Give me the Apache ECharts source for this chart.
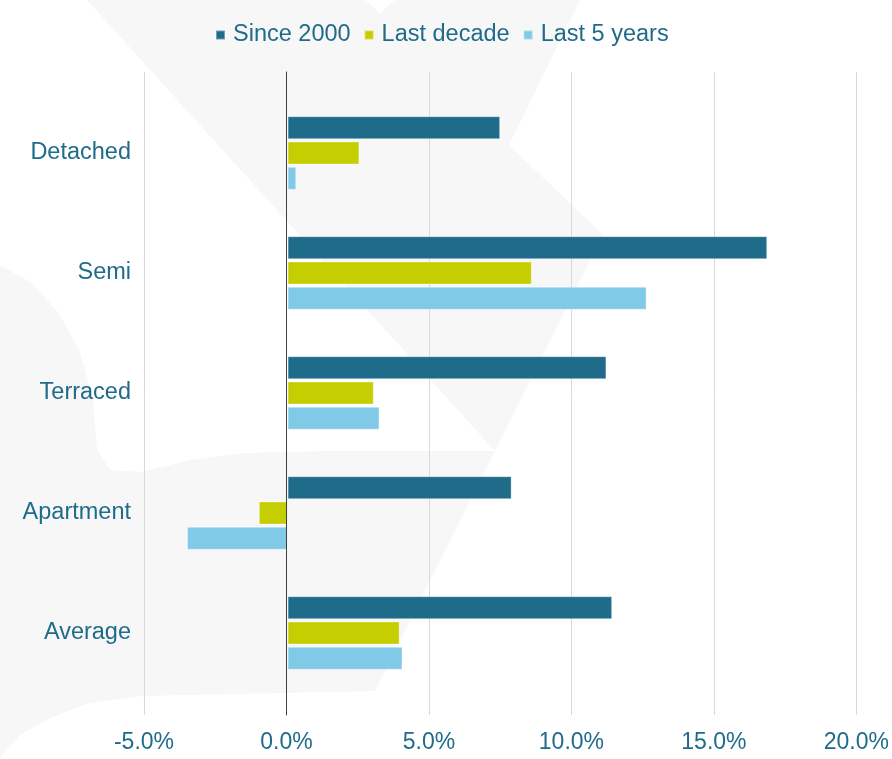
<!DOCTYPE html>
<html>
<head>
<meta charset="utf-8">
<script src="https://cdn.jsdelivr.net/npm/echarts@6/dist/echarts.min.js"></script>
<style>
html,body{margin:0;padding:0;background:#ffffff;}
#chart{width:892px;height:759px;}
</style>
</head>
<body>
<div id="chart"></div>
<script>
const categories = ['Detached', 'Semi', 'Terraced', 'Apartment', 'Average'];
const since2000 = [7.4, 16.7, 11.1, 7.8, 11.3];
const lastDecade = [2.5, 8.5, 3.0, -1.0, 3.9];
const last5Years = [0.3, 12.5, 3.2, -3.5, 4.0];
const seriesNames = ['Since 2000', 'Last decade', 'Last 5 years'];
const xTicks = { min: -5, max: 20, interval: 5 };

const TEXT = '#1f6b8a';
const FONT = "'Liberation Sans', Arial, sans-serif";
const COLORS = ['#1f6b8a', '#c4ce00', '#80cae8'];

const chart = echarts.init(document.getElementById('chart'), null, { renderer: 'canvas' });

const bg = '#f7f7f7';
const option = {
  backgroundColor: '#ffffff',
  animation: false,
  textStyle: { fontFamily: FONT },
  graphic: [{
    type: 'polygon',
    z: -10,
    silent: true,
    shape: {
      points: [
        [87, 0], [365, 0], [380, 14], [395, 0], [580, 0], [509, 145], [603, 235],
        [375, 691], [142, 696], [90, 703], [50, 718], [20, 735], [0, 758],
        [0, 265], [30, 282], [58, 312], [80, 352], [93, 400], [97, 450],
        [110, 470], [142, 472], [190, 460], [245, 453], [330, 451], [495, 451]
      ]
    },
    style: { fill: bg }
  }],
  legend: {
    data: seriesNames,
    top: 18,
    left: 210,
    icon: 'rect',
    itemWidth: 9,
    itemHeight: 9,
    itemGap: 13,
    textStyle: { color: TEXT, fontSize: 23.5, fontFamily: FONT, padding: [0, 0, 0, 3] }
  },
  grid: [
    { left: 144, right: 30, top: 72, height: 643 },
    { left: 144, right: 30, top: 93, height: 600 }
  ],
  xAxis: [
    {
      gridIndex: 0, type: 'value', min: xTicks.min, max: xTicks.max, interval: xTicks.interval,
      axisLine: { show: false }, axisTick: { show: false },
      splitLine: { show: true, lineStyle: { color: '#d9d9d9', width: 1 } },
      axisLabel: {
        color: TEXT, fontSize: 23, fontFamily: FONT, margin: 16,
        formatter: v => v.toFixed(1) + '%'
      }
    },
    {
      gridIndex: 1, type: 'value', min: xTicks.min, max: xTicks.max, interval: xTicks.interval,
      show: false
    }
  ],
  yAxis: [
    {
      gridIndex: 0, type: 'value', min: 0, max: 1, z: 5,
      axisLine: { show: true, onZero: true, lineStyle: { color: '#404040', width: 1 } },
      axisTick: { show: false }, axisLabel: { show: false }, splitLine: { show: false }
    },
    {
      gridIndex: 1, type: 'category', data: categories, inverse: true,
      axisLine: { show: false, onZero: false }, axisTick: { show: false },
      splitLine: { show: false },
      axisLabel: { color: TEXT, fontSize: 23.5, fontFamily: FONT, margin: 13 }
    }
  ],
  series: [
    { name: seriesNames[0], data: since2000 },
    { name: seriesNames[1], data: lastDecade },
    { name: seriesNames[2], data: last5Years }
  ].map((s, i) => ({
    type: 'bar',
    name: s.name,
    data: s.data,
    xAxisIndex: 1,
    yAxisIndex: 1,
    barWidth: 23,
    barGap: '10%',
    itemStyle: { color: COLORS[i], borderColor: 'rgba(255,255,255,0.35)', borderWidth: 1 }
  }))
};
chart.setOption(option);
</script>
</body>
</html>
